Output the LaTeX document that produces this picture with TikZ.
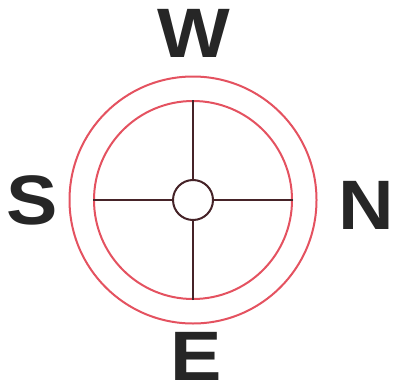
\documentclass[tikz,border=0pt]{standalone}
\usepackage{fontspec}
\setmainfont{Liberation Sans}
\usepackage{tikz}
\usetikzlibrary{positioning}
\definecolor{ringred}{RGB}{228, 82, 96}
\definecolor{crossdark}{RGB}{70, 35, 40}

\begin{document}
\begin{tikzpicture}[
    x=1pt, y=1pt,
    ring/.style={circle, draw=ringred, line width=2pt, minimum size=#1, inner sep=0pt},
    hubnode/.style={circle, draw=crossdark, line width=2pt, fill=white, minimum size=40pt, inner sep=0pt},
    arm/.style={draw=crossdark, line width=2pt},
    point/.style={inner sep=0pt, xscale=1.1, font=\fontsize{70}{70}\selectfont\bfseries, text=black!85}
]
\useasboundingbox (0,0) rectangle (395,389);

% Rings
\node[ring=247pt] (outer) at (193, 189) {};
\node[ring=198pt] (inner) at (193, 189) {};
\node[hubnode] (hub) at (193, 189) {};

% Cross arms
\draw[arm] (inner.north) -- (hub.north);
\draw[arm] (inner.south) -- (hub.south);
\draw[arm] (inner.west) -- (hub.west);
\draw[arm] (inner.east) -- (hub.east);

% Letters
\node[point] (w) at (193.5, 356) {W};
\node[point] (s) at (32.5, 189) {S};
\node[point] (n) at (366, 184) {N};
\node[point] (e) at (196.5, 32.5) {E};

\end{tikzpicture}
\end{document}
